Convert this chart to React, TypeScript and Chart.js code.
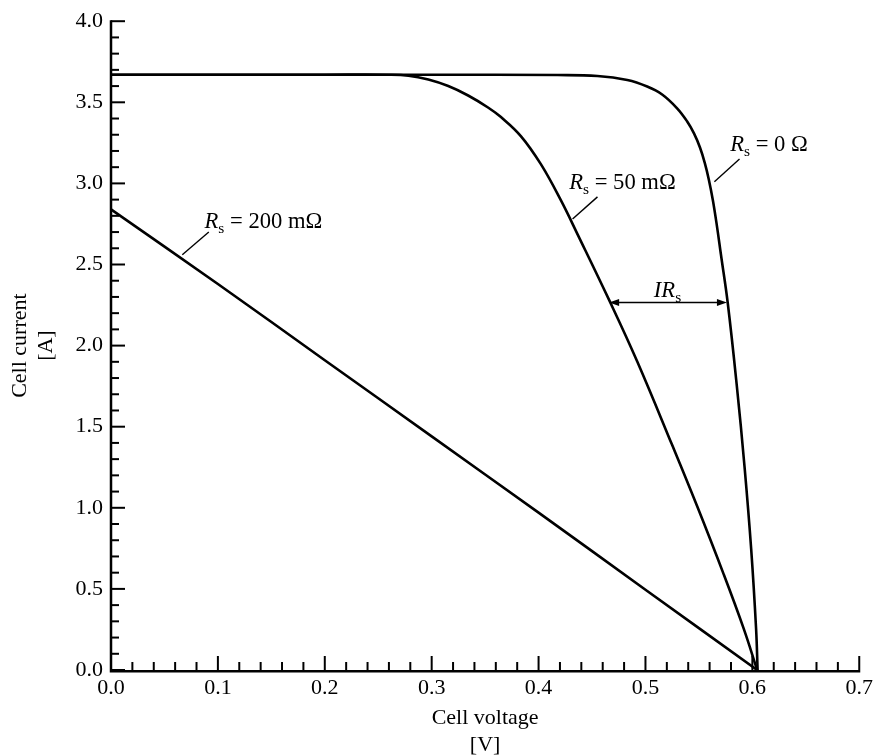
import React, { useEffect, useRef } from 'react';
import { Chart, registerables } from 'chart.js';

Chart.register(...registerables);

const FONT = '"Liberation Serif", "Times New Roman", serif';

// Tick labels
const xTickValues = [0, 0.1, 0.2, 0.3, 0.4, 0.5, 0.6, 0.7];
const yTickValues = [0, 0.5, 1, 1.5, 2, 2.5, 3, 3.5, 4];

// Rs = 0 Ω
const voltageRs0 = [0, 0.1, 0.2, 0.3, 0.4179, 0.4551, 0.483, 0.5016, 0.5156, 0.5296, 0.5389, 0.5454, 0.551, 0.5556, 0.5593, 0.5631, 0.5668, 0.5705, 0.577, 0.5853, 0.5928, 0.5989, 0.6035, 0.6049];
const currentRs0 = [3.67, 3.67, 3.67, 3.67, 3.668, 3.662, 3.637, 3.597, 3.548, 3.463, 3.383, 3.308, 3.221, 3.124, 3.023, 2.895, 2.74, 2.566, 2.261, 1.762, 1.245, 0.745, 0.253, 0];

// Rs = 50 mΩ
const voltageRs50 = [0, 0.1, 0.2, 0.2597, 0.2783, 0.2969, 0.3155, 0.3341, 0.3527, 0.3648, 0.3834, 0.402, 0.4207, 0.4365, 0.4663, 0.4923, 0.5249, 0.5482, 0.5733, 0.5919, 0.6045];
const currentRs50 = [3.67, 3.67, 3.67, 3.67, 3.664, 3.64, 3.6, 3.542, 3.468, 3.409, 3.292, 3.12, 2.898, 2.686, 2.277, 1.902, 1.388, 1.012, 0.588, 0.255, 0];

// Rs = 200 mΩ
const voltageRs200 = [0, 0.1, 0.2, 0.3, 0.4, 0.5, 0.6045];
const currentRs200 = [2.84, 2.38, 1.91, 1.44, 0.97, 0.495, 0];

// Annotation anchors (data units)
const rs0Label = { v: 0.5793, i: 3.2, rest: ' = 0 Ω' };
const rs0Leader = { v1: 0.588, i1: 3.15, v2: 0.5645, i2: 3.01 };
const rs50Label = { v: 0.4287, i: 2.965, rest: ' = 50 mΩ' };
const rs50Leader = { v1: 0.4551, i1: 2.917, v2: 0.4318, i2: 2.78 };
const rs200Label = { v: 0.0875, i: 2.725, rest: ' = 200 mΩ' };
const rs200Leader = { v1: 0.0915, i1: 2.70, v2: 0.0667, i2: 2.56 };
const irsLabel = { v: 0.5078, i: 2.30 };
const irsArrow = { v1: 0.466, v2: 0.5762, i: 2.265 };

const pts = (v: number[], c: number[]) => v.map((x, k) => ({ x, y: c[k] }));

function drawSubLabel(ctx: CanvasRenderingContext2D, x: number, y: number, main: string, rest: string) {
  ctx.fillStyle = '#000';
  ctx.textAlign = 'left';
  ctx.textBaseline = 'alphabetic';
  ctx.font = `italic 22.6px ${FONT}`;
  ctx.fillText(main, x, y);
  let w = ctx.measureText(main).width;
  ctx.font = `15.5px ${FONT}`;
  ctx.fillText('s', x + w, y + 5);
  w += ctx.measureText('s').width;
  if (rest) {
    ctx.font = `22.6px ${FONT}`;
    ctx.fillText(rest, x + w, y);
  }
}

const axesPlugin = {
  id: 'inwardAxes',
  afterDatasetsDraw(chart: any) {
    const ctx: CanvasRenderingContext2D = chart.ctx;
    const xs = chart.scales.x;
    const ys = chart.scales.y;
    const x0 = xs.getPixelForValue(0);
    const x7 = xs.getPixelForValue(0.7);
    const y0 = ys.getPixelForValue(0);
    const y4 = ys.getPixelForValue(4);
    ctx.save();
    ctx.strokeStyle = '#000';
    ctx.lineCap = 'butt';
    ctx.lineWidth = 2;
    for (let k = 0; k <= 40; k++) {
      const p = ys.getPixelForValue(k / 10);
      const len = k % 5 === 0 ? 14 : 8;
      ctx.beginPath();
      ctx.moveTo(x0, p);
      ctx.lineTo(x0 + len, p);
      ctx.stroke();
    }
    for (let k = 0; k <= 35; k++) {
      const p = xs.getPixelForValue(k / 50);
      const len = k % 5 === 0 ? 14 : 8;
      ctx.beginPath();
      ctx.moveTo(p, y0);
      ctx.lineTo(p, y0 - len);
      ctx.stroke();
    }
    ctx.lineWidth = 2.5;
    ctx.beginPath();
    ctx.moveTo(x0, y4 - 1);
    ctx.lineTo(x0, y0 + 1.25);
    ctx.lineTo(x7 + 1, y0 + 1.25);
    ctx.stroke();
    ctx.restore();
  },
};

const annotationPlugin = {
  id: 'curveNotes',
  afterDatasetsDraw(chart: any) {
    const ctx: CanvasRenderingContext2D = chart.ctx;
    const xs = chart.scales.x;
    const ys = chart.scales.y;
    const X = (v: number) => xs.getPixelForValue(v);
    const Y = (i: number) => ys.getPixelForValue(i);
    ctx.save();
    ctx.strokeStyle = '#000';
    ctx.fillStyle = '#000';
    ctx.lineWidth = 1.4;
    const leader = (l: any) => {
      ctx.beginPath();
      ctx.moveTo(X(l.v1), Y(l.i1));
      ctx.lineTo(X(l.v2), Y(l.i2));
      ctx.stroke();
    };
    leader(rs0Leader);
    leader(rs50Leader);
    leader(rs200Leader);
    drawSubLabel(ctx, X(rs0Label.v), Y(rs0Label.i), 'R', rs0Label.rest);
    drawSubLabel(ctx, X(rs50Label.v), Y(rs50Label.i), 'R', rs50Label.rest);
    drawSubLabel(ctx, X(rs200Label.v), Y(rs200Label.i), 'R', rs200Label.rest);
    drawSubLabel(ctx, X(irsLabel.v), Y(irsLabel.i), 'IR', '');
    const ax1 = X(irsArrow.v1);
    const ax2 = X(irsArrow.v2);
    const ay = Y(irsArrow.i);
    const head = 10;
    const hw = 3.5;
    ctx.lineWidth = 1.5;
    ctx.beginPath();
    ctx.moveTo(ax1 + head - 1, ay);
    ctx.lineTo(ax2 - head + 1, ay);
    ctx.stroke();
    ctx.beginPath();
    ctx.moveTo(ax1, ay);
    ctx.lineTo(ax1 + head, ay - hw);
    ctx.lineTo(ax1 + head, ay + hw);
    ctx.closePath();
    ctx.fill();
    ctx.beginPath();
    ctx.moveTo(ax2, ay);
    ctx.lineTo(ax2 - head, ay - hw);
    ctx.lineTo(ax2 - head, ay + hw);
    ctx.closePath();
    ctx.fill();
    ctx.restore();
  },
};

export default function App() {
  const ref = useRef<HTMLCanvasElement>(null);
  useEffect(() => {
    const lineStyle = {
      showLine: true,
      borderColor: '#000',
      backgroundColor: '#000',
      borderWidth: 2.6,
      pointRadius: 0,
      pointHoverRadius: 0,
      tension: 0.4,
      fill: false,
    };
    const chart = new Chart(ref.current!, {
      type: 'scatter',
      data: {
        datasets: [
          { label: 'Rs = 0 Ω', data: pts(voltageRs0, currentRs0), ...lineStyle },
          { label: 'Rs = 50 mΩ', data: pts(voltageRs50, currentRs50), ...lineStyle },
          { label: 'Rs = 200 mΩ', data: pts(voltageRs200, currentRs200), ...lineStyle },
        ],
      },
      options: {
        animation: false,
        responsive: false,
        events: [],
        layout: { padding: { top: 20, right: 15, left: 0, bottom: 0 } },
        plugins: {
          legend: { display: false },
          tooltip: { enabled: false },
        },
        scales: {
          x: {
            type: 'linear',
            min: 0,
            max: 0.7,
            grid: { display: false, drawTicks: false },
            border: { display: false },
            afterBuildTicks: (s: any) => {
              s.ticks = xTickValues.map((value) => ({ value }));
            },
            afterFit: (s: any) => {
              s.height = 85;
            },
            ticks: {
              autoSkip: false,
              maxRotation: 0,
              padding: 5,
              color: '#000',
              font: { family: FONT, size: 22 },
              callback: (v: any) => Number(v).toFixed(1),
            },
            title: {
              display: true,
              text: ['Cell voltage', '[V]'],
              color: '#000',
              font: { family: FONT, size: 22 },
              padding: { top: 0, bottom: -3 },
            },
          },
          y: {
            type: 'linear',
            min: 0,
            max: 4,
            grid: { display: false, drawTicks: false },
            border: { display: false },
            afterBuildTicks: (s: any) => {
              s.ticks = yTickValues.map((value) => ({ value }));
            },
            afterFit: (s: any) => {
              s.width = 111;
            },
            ticks: {
              autoSkip: false,
              padding: 8,
              color: '#000',
              font: { family: FONT, size: 22 },
              callback: (v: any) => Number(v).toFixed(1),
            },
            title: {
              display: true,
              text: ['Cell current', '[A]'],
              color: '#000',
              font: { family: FONT, size: 22 },
              padding: { top: 7, bottom: 0 },
            },
          },
        },
      },
      plugins: [axesPlugin, annotationPlugin],
    });
    return () => chart.destroy();
  }, []);
  return (
    <div style={{ position: 'absolute', left: 0, top: 0, width: 878, height: 755, background: '#fff' }}>
      <canvas ref={ref} width={878} height={755} style={{ display: 'block' }} />
    </div>
  );
}
